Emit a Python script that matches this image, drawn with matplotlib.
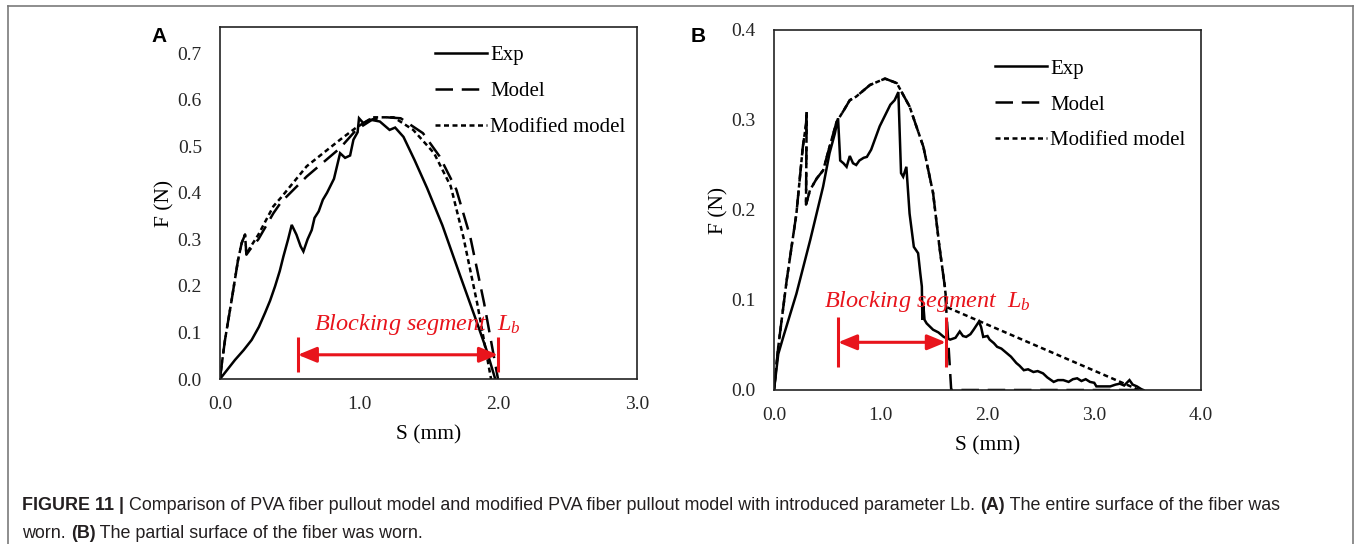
import matplotlib
matplotlib.use("Agg")
import matplotlib.pyplot as plt
from matplotlib.lines import Line2D
from matplotlib.patches import ArrowStyle

# ---------------- data: panel A ----------------
exp_a_s = [0, 0.05, 0.108, 0.17, 0.228, 0.28, 0.324, 0.36, 0.396, 0.43, 0.456, 0.49, 0.516,
           0.55, 0.58, 0.60, 0.63, 0.66, 0.68, 0.71, 0.74, 0.77, 0.82, 0.864, 0.90, 0.936,
           0.96, 0.99, 1.0, 1.03, 1.08, 1.15, 1.22, 1.26, 1.32, 1.40, 1.49, 1.60, 1.73,
           1.85, 1.92, 1.98]
exp_a_f = [0, 0.019, 0.041, 0.062, 0.084, 0.112, 0.142, 0.168, 0.199, 0.232, 0.263, 0.30, 0.331,
           0.31, 0.285, 0.274, 0.30, 0.32, 0.346, 0.36, 0.385, 0.40, 0.43, 0.485, 0.475, 0.48,
           0.514, 0.53, 0.56, 0.55, 0.557, 0.553, 0.535, 0.54, 0.52, 0.47, 0.41, 0.33, 0.22,
           0.12, 0.06, 0.0]

model_a_s = [0, 0.012, 0.036, 0.084, 0.13, 0.156, 0.18, 0.19, 0.216, 0.276, 0.384, 0.44, 0.624,
             0.864, 0.98, 1.10, 1.20, 1.30, 1.46, 1.58, 1.70, 1.80, 1.90, 1.97, 2.0]
model_a_f = [0, 0.03, 0.084, 0.17, 0.256, 0.292, 0.31, 0.267, 0.278, 0.30, 0.356, 0.38, 0.435,
             0.496, 0.535, 0.558, 0.562, 0.56, 0.528, 0.478, 0.407, 0.306, 0.163, 0.049, 0.0]

mod_a_s = [0, 0.012, 0.036, 0.084, 0.13, 0.156, 0.18, 0.19, 0.216, 0.276, 0.384, 0.44, 0.624,
           0.864, 0.98, 1.10, 1.25, 1.39, 1.54, 1.66, 1.75, 1.85, 1.92, 1.95]
mod_a_f = [0, 0.03, 0.084, 0.17, 0.256, 0.292, 0.31, 0.267, 0.282, 0.31, 0.371, 0.39, 0.457,
           0.514, 0.54, 0.562, 0.562, 0.535, 0.485, 0.414, 0.306, 0.163, 0.049, 0.0]

lb_a_s = [0.56, 2.0]     # blocking segment ends (mm)
lb_a_bar = [0.015, 0.09]  # bar extents (N)
lb_a_f = 0.052            # arrow level (N)

# ---------------- data: panel B ----------------
exp_b_s = [0, 0.04, 0.087, 0.21, 0.34, 0.46, 0.52, 0.57, 0.60, 0.62, 0.65, 0.68, 0.71, 0.74,
           0.77, 0.80, 0.84, 0.87, 0.91, 0.95, 0.99, 1.04, 1.09, 1.13, 1.165, 1.19, 1.21,
           1.24, 1.27, 1.31, 1.35, 1.37, 1.385, 1.39, 1.40, 1.41, 1.43, 1.49, 1.54, 1.59,
           1.65, 1.70, 1.74, 1.77, 1.80, 1.84, 1.87, 1.92, 1.94, 1.96, 2.0, 2.02, 2.06,
           2.09, 2.13, 2.18, 2.22, 2.27, 2.30, 2.34, 2.38, 2.43, 2.47, 2.52, 2.56, 2.62,
           2.66, 2.71, 2.76, 2.80, 2.84, 2.88, 2.92, 2.96, 3.0, 3.02, 3.08, 3.15, 3.20,
           3.24, 3.28, 3.33, 3.36, 3.40, 3.44, 3.46]
exp_b_f = [0, 0.04, 0.059, 0.107, 0.167, 0.226, 0.263, 0.285, 0.302, 0.255, 0.252, 0.248, 0.26,
           0.252, 0.25, 0.255, 0.258, 0.259, 0.267, 0.28, 0.293, 0.305, 0.317, 0.322, 0.331,
           0.241, 0.237, 0.248, 0.196, 0.159, 0.152, 0.13, 0.115, 0.078, 0.093, 0.078, 0.074,
           0.067, 0.064, 0.059, 0.056, 0.058, 0.065, 0.06, 0.059, 0.062, 0.067, 0.076,
           0.07, 0.059, 0.06, 0.056, 0.052, 0.048, 0.046, 0.041, 0.037, 0.03, 0.027, 0.022,
           0.023, 0.02, 0.021, 0.0185, 0.014, 0.009, 0.011, 0.011, 0.009, 0.012, 0.013, 0.01,
           0.012, 0.009, 0.008, 0.004, 0.004, 0.004, 0.006, 0.007, 0.005, 0.011, 0.006,
           0.004, 0.001, 0.0]

model_b_s = [0, 0.04, 0.119, 0.21, 0.27, 0.30, 0.306, 0.30, 0.337, 0.40, 0.46, 0.52, 0.587,
             0.65, 0.71, 0.77, 0.90, 1.04, 1.15, 1.27, 1.40, 1.49, 1.55, 1.60, 1.63, 1.66, 3.45]
model_b_f = [0, 0.048, 0.122, 0.196, 0.27, 0.295, 0.309, 0.206, 0.222, 0.235, 0.244, 0.27, 0.298,
             0.31, 0.322, 0.326, 0.339, 0.346, 0.341, 0.315, 0.27, 0.219, 0.159, 0.115, 0.059,
             0.0, 0.0]

mod_b_s = [0, 0.04, 0.119, 0.21, 0.27, 0.30, 0.306, 0.30, 0.337, 0.40, 0.46, 0.52, 0.587,
           0.65, 0.71, 0.77, 0.90, 1.04, 1.15, 1.27, 1.40, 1.49, 1.55, 1.60, 1.62, 3.42]
mod_b_f = [0, 0.048, 0.122, 0.196, 0.27, 0.295, 0.309, 0.206, 0.222, 0.235, 0.244, 0.27, 0.298,
           0.31, 0.322, 0.326, 0.339, 0.346, 0.341, 0.315, 0.27, 0.219, 0.159, 0.115, 0.092, 0.0]

lb_b_s = [0.60, 1.61]
lb_b_bar = [0.026, 0.081]
lb_b_f = 0.053

series_labels = ["Exp", "Model", "Modified model"]
xticks_a = [0.0, 1.0, 2.0, 3.0]
yticks_a = [0.0, 0.1, 0.2, 0.3, 0.4, 0.5, 0.6, 0.7]
xticks_b = [0.0, 1.0, 2.0, 3.0, 4.0]
yticks_b = [0.0, 0.1, 0.2, 0.3, 0.4]

caption_line1 = [("FIGURE 11 | ", "bold"),
                 ("Comparison of PVA fiber pullout model and modified PVA fiber pullout model "
                  "with introduced parameter Lb. ", "normal"),
                 ("(A)", "bold"),
                 (" The entire surface of the fiber was", "normal")]
caption_line2 = [("worn. ", "normal"), ("(B)", "bold"),
                 (" The partial surface of the fiber was worn.", "normal")]

# ---------------- styling ----------------
plt.rcParams['mathtext.fontset'] = 'custom'
plt.rcParams['mathtext.it'] = 'Liberation Serif:italic'
plt.rcParams['mathtext.rm'] = 'Liberation Serif'
SERIF = 'Liberation Serif'
RED = '#e8141c'
LW = 1.8

W, H = 1354, 544
fig = plt.figure(figsize=(W / 100, H / 100), dpi=100)


def px_axes(l, t, r, b):
    return fig.add_axes([l / W, 1 - b / H, (r - l) / W, (b - t) / H])


def style_axes(ax, xt, yt, xlim, ylim):
    ax.set_xlim(*xlim)
    ax.set_ylim(*ylim)
    ax.set_xticks(xt)
    ax.set_yticks(yt)
    ax.set_xticklabels([f"{v:.1f}" for v in xt], fontfamily=SERIF, fontsize=14, color='#262626')
    ax.set_yticklabels([f"{v:.1f}" for v in yt], fontfamily=SERIF, fontsize=14, color='#262626')
    ax.tick_params(axis='y', length=0, pad=13)
    ax.tick_params(axis='x', length=0, pad=12)
    for sp in ax.spines.values():
        sp.set_linewidth(1.2)
        sp.set_color('#222222')


def draw_panel(ax, es, ef, ms, mf, qs, qf):
    l1, = ax.plot(es, ef, color='black', lw=LW, solid_joinstyle='miter')
    l2, = ax.plot(ms, mf, color='black', lw=LW, dashes=(7, 3.5))
    l3, = ax.plot(qs, qf, color='black', lw=LW, dashes=(2.0, 1.4))
    return [l1, l2, l3]


def blocking(ax, s_pair, bar, level, tx, ty):
    for s in s_pair:
        ax.plot([s, s], bar, color=RED, lw=2.2, solid_capstyle='butt')
    ax.annotate('', xy=(s_pair[1], level), xytext=(s_pair[0], level),
                arrowprops=dict(arrowstyle=ArrowStyle('<|-|>', head_length=0.8, head_width=0.33),
                                mutation_scale=14, color=RED, lw=2.2, shrinkA=0, shrinkB=0))
    ax.text(tx, ty, r"$Blocking\ segment\ \ L_b$", color=RED, fontsize=17.5,
            ha='center', va='baseline')


LEG = dict(loc='upper left', frameon=False, prop={'family': SERIF, 'size': 15},
           handlelength=2.5, handletextpad=0.15, labelspacing=0.78, borderpad=0, borderaxespad=0)

# Panel A
axA = px_axes(220, 27, 637, 379)
style_axes(axA, xticks_a, yticks_a, (0, 3.0), (0, 0.756))
hA = draw_panel(axA, exp_a_s, exp_a_f, model_a_s, model_a_f, mod_a_s, mod_a_f)
blocking(axA, lb_a_s, lb_a_bar, lb_a_f, 1.42, 0.106)
axA.legend(hA, series_labels, bbox_to_anchor=(0.515, 0.947), **LEG)
axA.set_xlabel("S (mm)", fontfamily=SERIF, fontsize=15.5, labelpad=9)
axA.set_ylabel("F (N)", fontfamily=SERIF, fontsize=15.5, labelpad=2)

# Panel B
axB = px_axes(774, 30, 1201, 390)
style_axes(axB, xticks_b, yticks_b, (0, 4.0), (0, 0.4))
hB = draw_panel(axB, exp_b_s, exp_b_f, model_b_s, model_b_f, mod_b_s, mod_b_f)
blocking(axB, lb_b_s, lb_b_bar, lb_b_f, 1.44, 0.092)
axB.legend(hB, series_labels, bbox_to_anchor=(0.518, 0.919), **LEG)
axB.set_xlabel("S (mm)", fontfamily=SERIF, fontsize=15.5, labelpad=9)
axB.set_ylabel("F (N)", fontfamily=SERIF, fontsize=15.5, labelpad=2)

# panel letters
fig.text(159 / W, 1 - 36 / H, "A", fontfamily='Liberation Sans', fontweight='bold', fontsize=15,
         ha='center', va='center')
fig.text(698 / W, 1 - 37 / H, "B", fontfamily='Liberation Sans', fontweight='bold', fontsize=15,
         ha='center', va='center')

# outer frame
for xs, ys in [([8, 8], [6, H]), ([8, 1353], [6, 6]), ([1353, 1353], [6, H])]:
    fig.add_artist(Line2D([x / W for x in xs], [1 - y / H for y in ys],
                          color='#7a7a7a', lw=1.2))

# caption with mixed weights
fig.canvas.draw()
renderer = fig.canvas.get_renderer()


def caption_line(parts, x0, baseline):
    x = x0
    for txt, wt in parts:
        t = fig.text(x / W, 1 - baseline / H, txt, fontfamily='Liberation Sans', fontweight=wt,
                     fontsize=12.9, color='#231f20', ha='left', va='baseline')
        bb = t.get_window_extent(renderer)
        x += bb.width


caption_line(caption_line1, 22, 510)
caption_line(caption_line2, 22, 538)

fig.savefig("out.png", dpi=100)
